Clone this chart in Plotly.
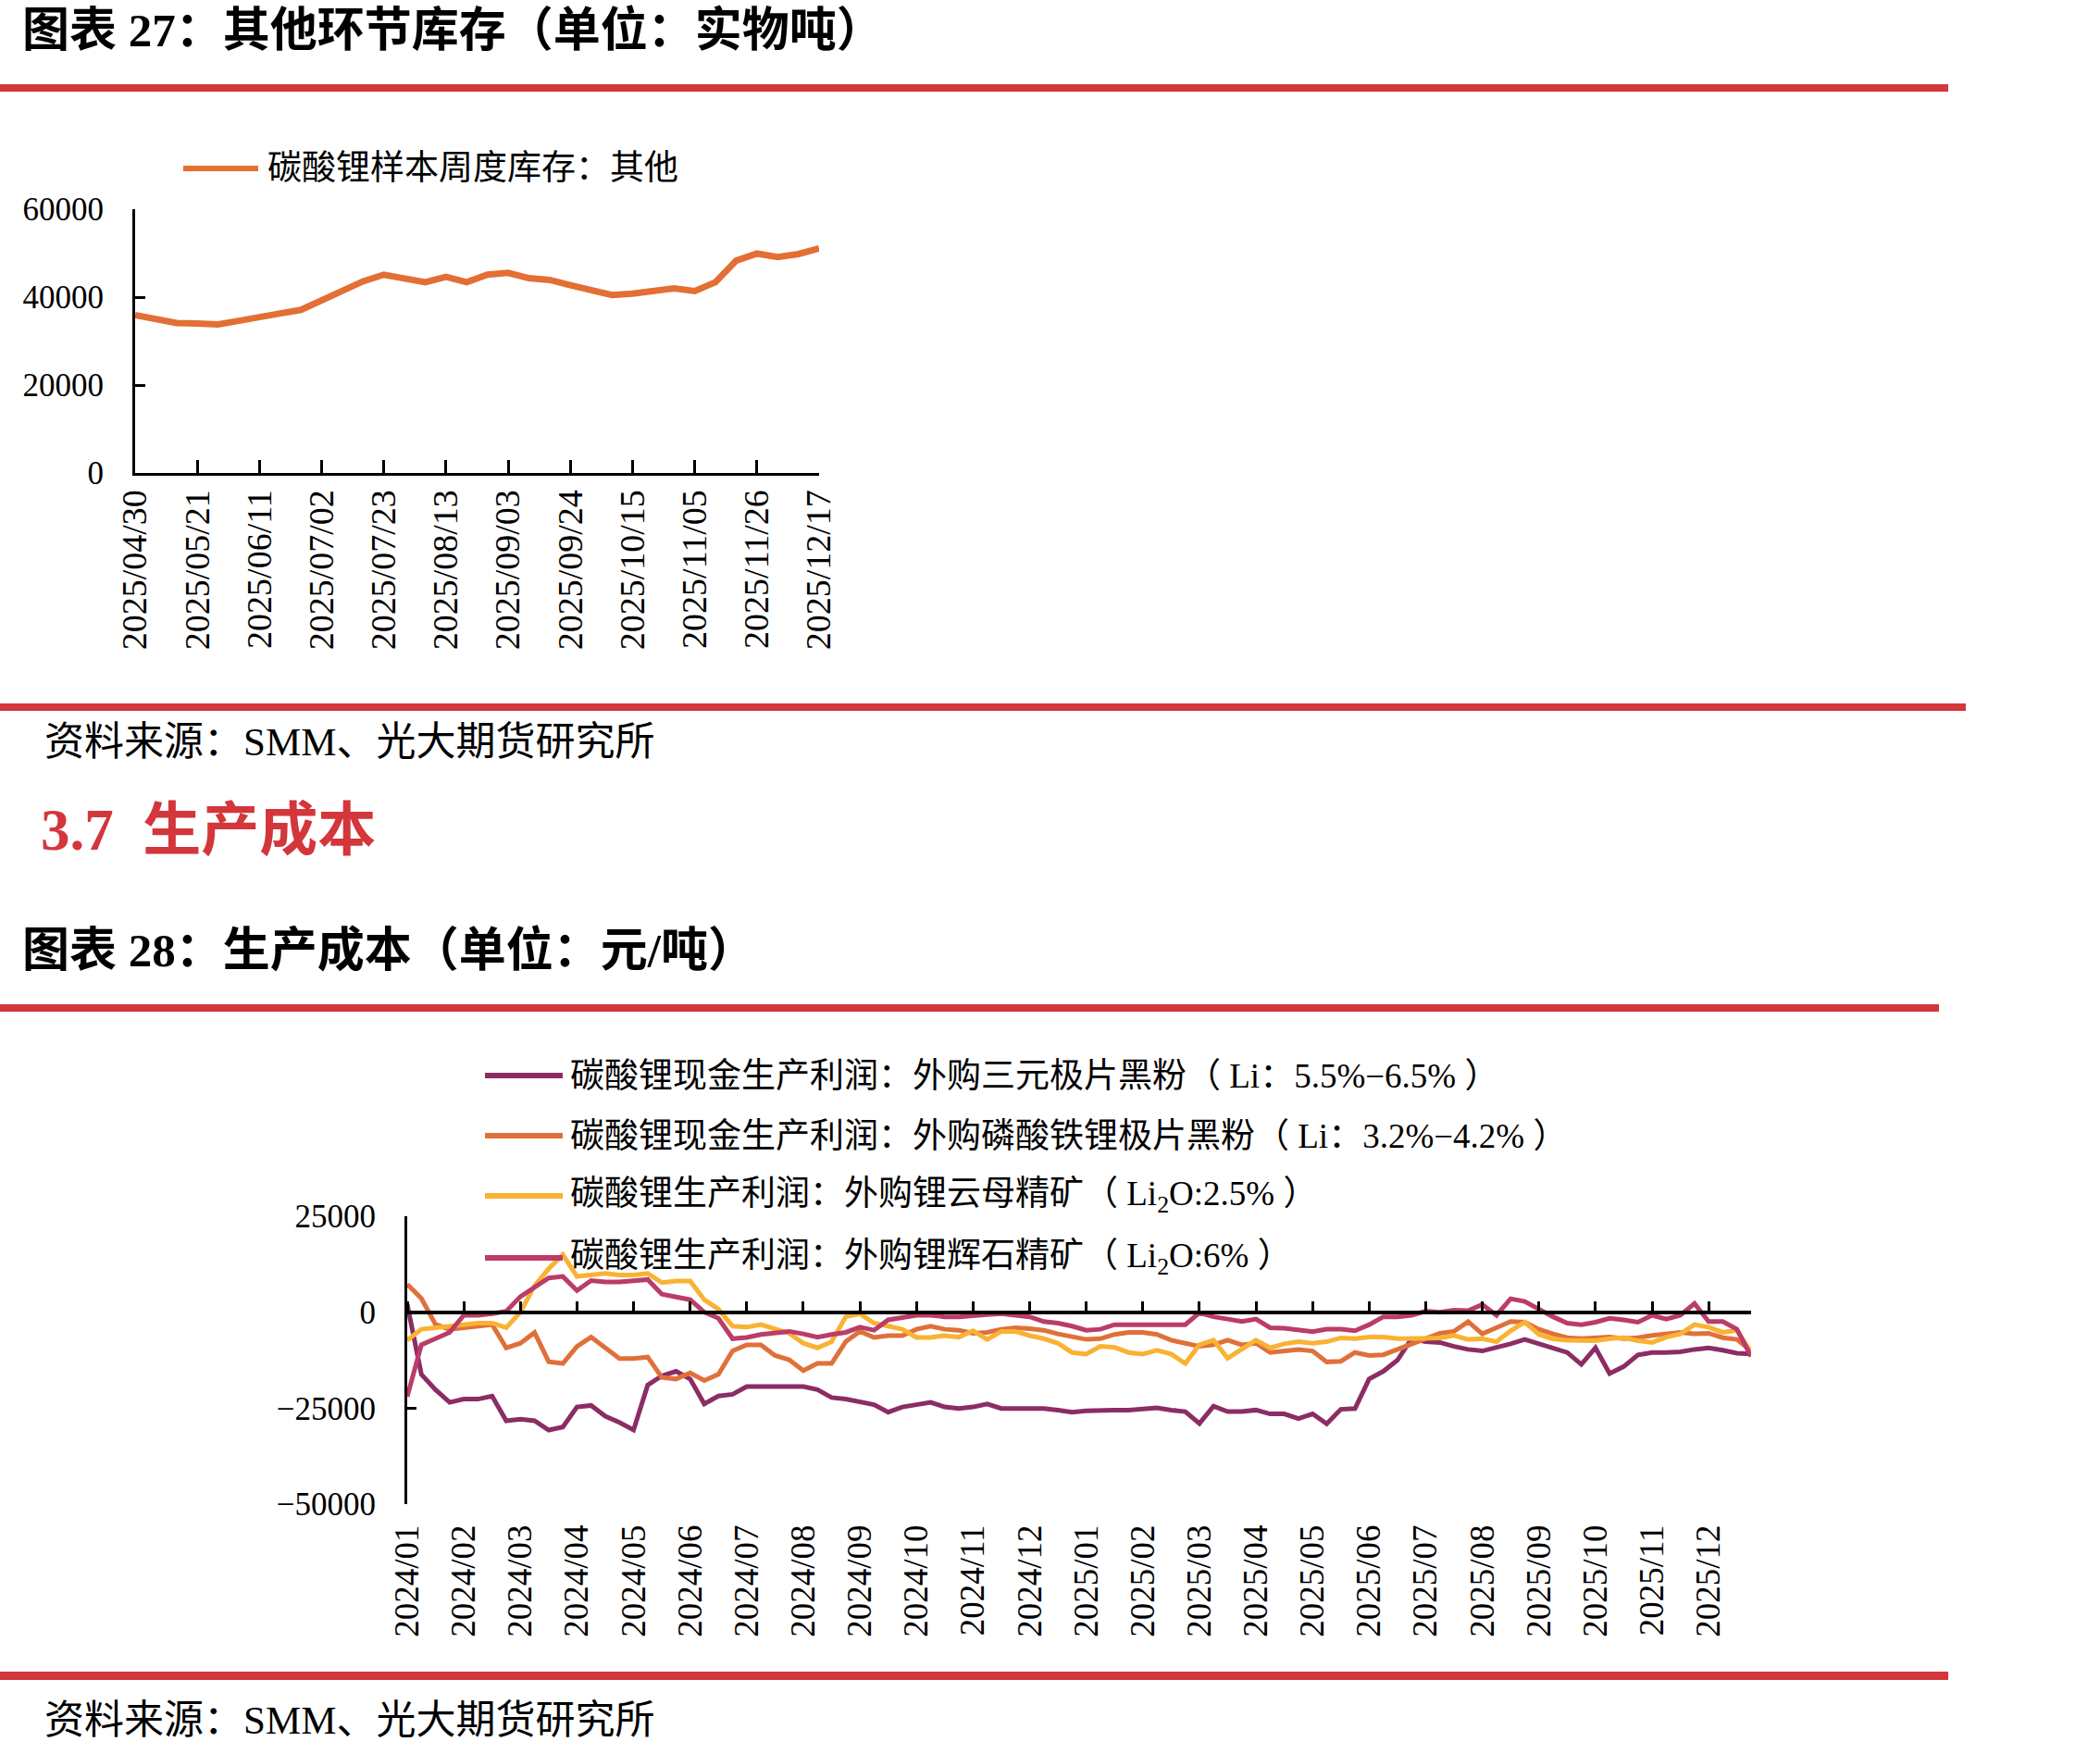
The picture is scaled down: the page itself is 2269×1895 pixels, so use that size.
import numpy as np
import pandas as pd
import plotly.graph_objects as go

W, H = 2269, 1895


def fx(px):
    return px / W


def fy(py):
    return 1 - py / H


FONT = "Liberation Serif, Noto Sans CJK SC"
RED = "#D3363B"

# ---------------- 图表27 data ----------------
inv_dates = list(pd.date_range("2025-04-30", periods=34, freq="7D").strftime("%Y/%m/%d"))
inv_other = [35900, 34900, 34100, 34000, 33800, 34600, 35600, 36300, 37100, 39400,
             41600, 43600, 45100, 44300, 43400, 44600, 43400, 45100, 45500, 44300,
             43900, 42700, 41600, 40500, 40800, 41300, 42000, 41400, 43400, 48300,
             49900, 49100, 49800, 51100]
inv_name = "碳酸锂样本周度库存：其他"
inv_color = "#E36F35"
inv_yticks = [0, 20000, 40000, 60000]
inv_yticktext = ["0", "20000", "40000", "60000"]

# ---------------- 图表28 data ----------------
month_labels = [f"{y}/{m:02d}" for y in (2024, 2025) for m in range(1, 13)]
t_month = list(np.arange(96) * 0.25)  # sample positions, months since 2024/01
cost_yticks = [-50000, -25000, 0, 25000]
cost_yticktext = ["−50000", "−25000", "0", "25000"]

profit_ncm = [
    2000, -16200, -20200, -23500, -22650, -22650, -21850, -28300,
    -27900, -28300, -30700, -29900, -24700, -24300, -27100, -28700,
    -30700, -19000, -16600, -15400, -17400, -23900, -21850, -21400,
    -19400, -19400, -19400, -19400, -19400, -20200, -22250, -22650,
    -23300, -24100, -26050, -24700, -24100, -23500, -24700, -25100,
    -24700, -23900, -25100, -25100, -25100, -25100, -25500, -26050,
    -25700, -25500, -25500, -25500, -25250, -24900, -25500, -25900,
    -29000, -24500, -25900, -25900, -25500, -26500, -26500, -27700,
    -26500, -29100, -25300, -25100, -17400, -15400, -12500, -6900,
    -7700, -7900, -8900, -9700, -10100, -9300, -8250, -7100,
    -8250, -9550, -10500, -13600, -9300, -16000, -14150, -11150,
    -10500, -10500, -10350, -9700, -9300, -9900, -10700, -10900]
profit_lfp = [
    7300, 3600, -3200, -4450, -4050, -3650, -3200, -9300,
    -8100, -5300, -12900, -13350, -8900, -6500, -9300, -12100,
    -12100, -11700, -17000, -17400, -15800, -17800, -16200, -10100,
    -8500, -8500, -11300, -12400, -15200, -13350, -13350, -7700,
    -5000, -6600, -6100, -6100, -4450, -3650, -4450, -4700,
    -5500, -5250, -4450, -4050, -4300, -4700, -5650, -6300,
    -7100, -6900, -5800, -5250, -5250, -5800, -7300, -8100,
    -8900, -8500, -7300, -8500, -8100, -10500, -10100, -9700,
    -10100, -12950, -12800, -10500, -11300, -11100, -9700, -8250,
    -6650, -5500, -5000, -2450, -5650, -4050, -2450, -2600,
    -4450, -5650, -6650, -6900, -6700, -6500, -6900, -6650,
    -6050, -5500, -5250, -5650, -5500, -6650, -7100, -10100]
profit_lepidolite = [
    -7300, -4450, -4050, -3650, -3250, -2850, -2850, -4050,
    0, 6900, 11300, 15000, 9300, 9700, 10100, 9700,
    9700, 10100, 7700, 8100, 8100, 3250, 800, -3650,
    -3900, -3250, -4450, -5500, -8100, -9300, -7700, -1200,
    -400, -2850, -3650, -4450, -6600, -6600, -6100, -6500,
    -4850, -7100, -5000, -5000, -6100, -6900, -8100, -10500,
    -10900, -8900, -9150, -10500, -10900, -9900, -10900, -13350,
    -8500, -7300, -12000, -9700, -7300, -9300, -8250, -7700,
    -8100, -7700, -6700, -6900, -6500, -6500, -6900, -6900,
    -6650, -6700, -6050, -7100, -6900, -7700, -4850, -2600,
    -5800, -6950, -7300, -7500, -7450, -6900, -6650, -7450,
    -7900, -6500, -5650, -3250, -3900, -5250, -4700, -10500]
profit_spodumene = [
    -22000, -8500, -6900, -5250, -800, -800, -400, 250,
    4050, 6300, 8900, 9300, 5650, 8250, 7900, 7900,
    8250, 8500, 4700, 4050, 3250, 0, -1600, -6900,
    -6600, -5800, -5250, -5000, -5650, -6500, -5800, -5250,
    -3900, -4700, -2000, -1450, -800, -800, -1200, -1200,
    -800, -650, -400, -650, -1200, -2450, -2850, -3650,
    -4700, -4450, -3250, -3250, -3250, -3250, -3250, -3250,
    -150, -1200, -1800, -2450, -1800, -4050, -4200, -4600,
    -5100, -4450, -4450, -4850, -3250, -1200, -1200, -800,
    250, 0, 550, 400, 2000, -800, 3500, 2800,
    650, -1200, -2850, -3250, -2600, -1600, -2000, -2600,
    -800, -1800, -800, 2250, -2450, -2450, -4450, -11500]

series_values = [profit_ncm, profit_lfp, profit_lepidolite, profit_spodumene]
series_names = [
    "碳酸锂现金生产利润：外购三元极片黑粉（ Li：5.5%−6.5% ）",
    "碳酸锂现金生产利润：外购磷酸铁锂极片黑粉（ Li：3.2%−4.2% ）",
    "碳酸锂生产利润：外购锂云母精矿（ Li<sub>2</sub>O:2.5% ）",
    "碳酸锂生产利润：外购锂辉石精矿（ Li<sub>2</sub>O:6% ）",
]
series_colors = ["#8B2D64", "#E0703A", "#F9B233", "#BB3C68"]

fig = go.Figure()

# chart 27
fig.add_trace(go.Scatter(x=inv_dates, y=inv_other, mode="lines", name=inv_name,
                         line=dict(color=inv_color, width=7),
                         xaxis="x", yaxis="y", showlegend=False))

# chart 28
for vals, name, col in zip(series_values, series_names, series_colors):
    fig.add_trace(go.Scatter(x=t_month, y=vals, mode="lines",
                             name=name.replace("<sub>", "").replace("</sub>", ""),
                             line=dict(color=col, width=5),
                             xaxis="x3", yaxis="y3", showlegend=False))
# invisible trace so the zero-line axis is drawn
fig.add_trace(go.Scatter(x=[t_month[0], t_month[-1]], y=[None, None], mode="lines",
                         xaxis="x4", yaxis="y3", showlegend=False, hoverinfo="skip"))

axis_common = dict(showgrid=False, zeroline=False, linecolor="black", tickcolor="black",
                   automargin=False,
                   tickfont=dict(family=FONT, size=35, color="black"))

fig.update_layout(
    width=W, height=H, margin=dict(l=0, r=0, t=0, b=0, pad=0, autoexpand=False),
    paper_bgcolor="white", plot_bgcolor="white", showlegend=False,
    font=dict(family=FONT, color="black"),
    xaxis=dict(domain=[fx(146), fx(885)], anchor="y", type="category", range=[0, 33],
               tickmode="array", tickvals=inv_dates[::3], ticks="inside", ticklen=14,
               tickwidth=2.5, showline=True, linewidth=3, tickangle=-90,
               ticklabelstandoff=0,
               **{**axis_common, "tickfont": dict(family=FONT, size=38, color="black")}),
    yaxis=dict(domain=[fy(511), fy(226)], anchor="x", range=[0, 60000],
               tickmode="array", tickvals=inv_yticks, ticktext=inv_yticktext,
               ticks="inside", ticklen=11, tickwidth=2.5,
               showline=True, linewidth=3, ticklabelstandoff=24,
               **axis_common),
    xaxis3=dict(domain=[fx(440), fx(1892)], anchor="y3", range=[0, 23.75],
                tickmode="array", tickvals=list(range(24)), ticktext=month_labels,
                ticks="", showline=False, tickangle=-90, ticklabelstandoff=14,
                **{**axis_common, "tickfont": dict(family=FONT, size=37, color="black")}),
    xaxis4=dict(overlaying="x3", anchor="free", position=fy(1418), side="top",
                range=[0, 23.75], tickmode="array", tickvals=list(range(24)),
                ticks="outside", ticklen=10, tickwidth=2.5, showline=True, linewidth=4,
                showticklabels=False, **axis_common),
    yaxis3=dict(domain=[fy(1625), fy(1314)], anchor="x3", range=[-50000, 25000],
                tickmode="array", tickvals=cost_yticks, ticktext=cost_yticktext,
                ticks="inside", ticklen=10,
                tickwidth=2.5, showline=True, linewidth=3,
                ticklabelstandoff=24, **axis_common),
)

shapes = []
for (y_top, y_bot, x_end) in [(91, 99, 2105), (760, 768, 2124), (1085, 1093, 2095), (1806, 1815, 2105)]:
    shapes.append(dict(type="rect", xref="paper", yref="paper", x0=0, x1=fx(x_end),
                       y0=fy(y_bot), y1=fy(y_top), fillcolor=RED, line=dict(width=0), layer="below"))

annotations = []


def add_text(text, px, py, size, color="black", bold=False):
    annotations.append(dict(text=text, x=fx(px), y=fy(py), xref="paper", yref="paper",
                            xanchor="left", yanchor="middle", showarrow=False,
                            font=dict(family=FONT, size=size, color=color,
                                      weight="bold" if bold else "normal")))


add_text("图表 27：其他环节库存（单位：实物吨）", 22, 33, 51, bold=True)
add_text("资料来源：SMM、光大期货研究所", 46, 802, 43)
add_text("3.7  生产成本", 42, 897, 63, color=RED, bold=True)
add_text("图表 28：生产成本（单位：元/吨）", 22, 1027, 51, bold=True)
add_text("资料来源：SMM、光大期货研究所", 46, 1858, 43)

# legend for chart 27
shapes.append(dict(type="line", xref="paper", yref="paper", x0=fx(198), x1=fx(279),
                   y0=fy(182), y1=fy(182), line=dict(color=inv_color, width=6)))
add_text(inv_name, 287, 182, 37)

# legend for chart 28
for name, col, ly in zip(series_names, series_colors, [1162, 1227, 1292, 1359]):
    shapes.append(dict(type="line", xref="paper", yref="paper", x0=fx(524), x1=fx(608),
                       y0=fy(ly), y1=fy(ly), line=dict(color=col, width=6)))
    add_text(name, 614, ly, 37)

fig.update_layout(shapes=shapes, annotations=annotations)
fig.write_html("out.html")
